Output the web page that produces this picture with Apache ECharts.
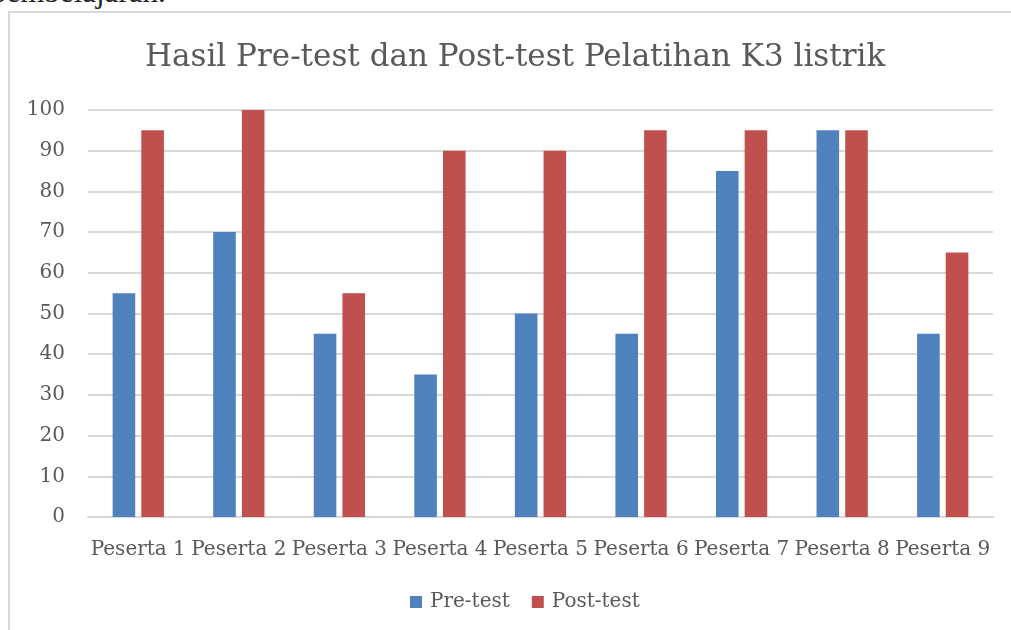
<!DOCTYPE html>
<html>
<head>
<meta charset="utf-8">
<script src="https://cdn.jsdelivr.net/npm/echarts@6/dist/echarts.min.js"></script>
<style>
	html, body { margin: 0; padding: 0; background: #ffffff; overflow: hidden; }
	#page { position: relative; width: 1011px; height: 630px; overflow: hidden; }
	#cut_text { position: absolute; left: -9px; top: -26px; font-family: "Liberation Serif", serif; font-size: 31px; color: #222222; white-space: nowrap; }
	#frame { position: absolute; left: 8px; top: 11px; width: 1100px; height: 700px; border: 2px solid #d9d9d9; box-sizing: border-box; }
	#chart { position: absolute; left: 0; top: 0; width: 1011px; height: 630px; }
</style>
</head>
<body>
<div id="page">
	<div id="cut_text">pembelajaran.</div>
	<div id="frame"></div>
	<div id="chart"></div>
</div>
<script>
//Chart data
let categories = ["Peserta 1", "Peserta 2", "Peserta 3", "Peserta 4", "Peserta 5", "Peserta 6", "Peserta 7", "Peserta 8", "Peserta 9"];
let pre_test = [55, 70, 45, 35, 50, 45, 85, 95, 45];
let post_test = [95, 100, 55, 90, 90, 95, 95, 95, 65];
let series_names = ["Pre-test", "Post-test"];
let title_text = "Hasil Pre-test dan Post-test Pelatihan K3 listrik";

//Declare local instance variables
let font_family = "'DejaVu Serif', serif";
let text_colour = "#595959";
let line_colour = "#d9d9d9";

let chart = echarts.init(document.getElementById("chart"), null, { renderer: "canvas" });

chart.setOption({
	animation: false,
	color: ["#4f81bd", "#c0504d"],
	textStyle: { fontFamily: font_family, color: text_colour },
	title: {
		text: title_text,
		left: 140,
		top: 37,
		textStyle: {
			fontFamily: font_family,
			fontSize: 31,
			fontWeight: "normal",
			color: text_colour
		}
	},
	legend: {
		data: series_names,
		top: 587,
		left: 405,
		icon: "rect",
		itemWidth: 12,
		itemHeight: 12,
		itemGap: 22,
		textStyle: { fontFamily: font_family, fontSize: 20, color: text_colour, padding: [0, 0, 0, 3] }
	},
	grid: {
		left: 88,
		right: 18,
		top: 110,
		bottom: 113
	},
	xAxis: {
		type: "category",
		data: categories,
		axisLine: { lineStyle: { color: line_colour, width: 2 } },
		axisTick: { show: false },
		axisLabel: {
			interval: 0,
			margin: 23,
			fontFamily: font_family,
			fontSize: 20,
			color: text_colour
		}
	},
	yAxis: {
		type: "value",
		min: 0,
		max: 100,
		interval: 10,
		axisLine: { show: false },
		axisTick: { show: false },
		splitLine: { lineStyle: { color: line_colour, width: 2 } },
		axisLabel: {
			margin: 23,
			fontFamily: font_family,
			fontSize: 20,
			color: text_colour
		}
	},
	series: [
		{
			name: series_names[0],
			type: "bar",
			data: pre_test,
			barGap: "27%",
			barCategoryGap: "49%"
		},
		{
			name: series_names[1],
			type: "bar",
			data: post_test,
			barGap: "27%",
			barCategoryGap: "49%"
		}
	]
});
</script>
</body>
</html>
